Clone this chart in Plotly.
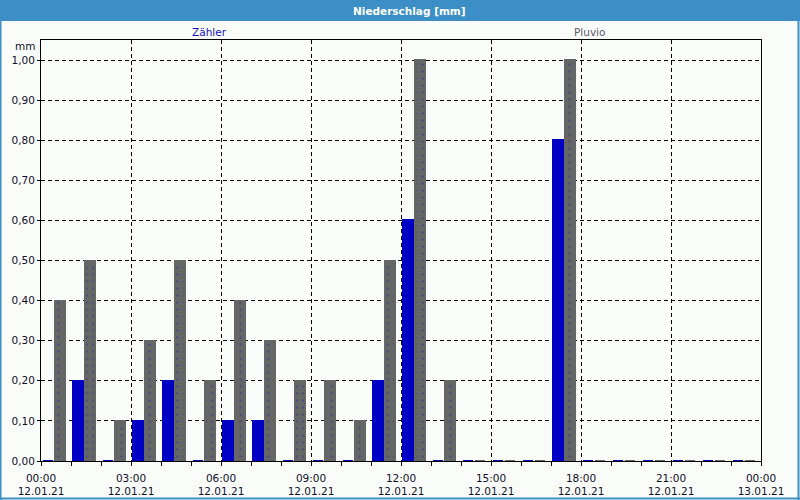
import plotly.graph_objects as go

# ---- data ----
hours = list(range(24))
zaehler = [0.0, 0.2, 0.0, 0.1, 0.2, 0.0, 0.1, 0.1, 0.0, 0.0, 0.0, 0.2,
           0.6, 0.0, 0.0, 0.0, 0.0, 0.8, 0.0, 0.0, 0.0, 0.0, 0.0, 0.0]
pluvio = [0.4, 0.5, 0.1, 0.3, 0.5, 0.2, 0.4, 0.3, 0.2, 0.2, 0.1, 0.5,
          1.0, 0.2, 0.0, 0.0, 0.0, 1.0, 0.0, 0.0, 0.0, 0.0, 0.0, 0.0]
tick_hours = [0, 3, 6, 9, 12, 15, 18, 21, 24]
tick_labels = ["00:00<br>12.01.21", "03:00<br>12.01.21", "06:00<br>12.01.21",
               "09:00<br>12.01.21", "12:00<br>12.01.21", "15:00<br>12.01.21",
               "18:00<br>12.01.21", "21:00<br>12.01.21", "00:00<br>13.01.21"]
y_ticks = [0.0, 0.1, 0.2, 0.3, 0.4, 0.5, 0.6, 0.7, 0.8, 0.9, 1.0]
title_text = "Niederschlag [mm]"
series_names = ["Zähler", "Pluvio"]
unit_label = "mm"

# ---- geometry helpers ----
W, H = 800, 500
PL, PR, PT, PB = 41, 761, 40, 461


def px_x(p):
    return (p - PL) / (PR - PL)


def px_y(p):
    return (PB - p) / (PB - PT)


BLUE = "#0000c4"
GRAY = "#666666"
FONT = "DejaVu Sans"
FS = 10.5
TXT = "#10102a"
BG = "#fafcfa"
FRAME = "#3c8fc6"

fig = go.Figure()
fig.add_trace(go.Bar(
    x=hours, y=zaehler, name=series_names[0],
    offset=0.06, width=0.33,
    marker=dict(color=BLUE, line=dict(color=BLUE, width=2)),
))
fig.add_trace(go.Bar(
    x=hours, y=pluvio, name=series_names[1],
    offset=0.46, width=0.33,
    marker=dict(color=GRAY, line=dict(color=GRAY, width=2),
                pattern=dict(shape=".", bgcolor=GRAY, fgcolor="#30309a",
                             size=7, solidity=0.1)),
))

fig.update_layout(
    width=W, height=H,
    margin=dict(l=PL, r=W - PR, t=PT, b=H - PB, pad=0),
    paper_bgcolor=BG, plot_bgcolor=BG,
    showlegend=False,
    separators=",.",
    font=dict(family=FONT, size=FS, color=TXT),
    bargap=0,
    xaxis=dict(
        range=[0, 24], tickmode="array", tickvals=tick_hours, ticktext=tick_labels,
        showgrid=True, gridcolor="#000000", gridwidth=1, griddash="4px,3px",
        showline=True, linecolor="#000000", linewidth=1, mirror=True,
        ticks="outside", ticklen=4, tickcolor="#000000",
        minor=dict(dtick=1, tick0=0, ticks="outside", ticklen=4,
                   tickcolor="#000000", showgrid=False),
        zeroline=False, fixedrange=True, automargin=False,
        ticklabelstandoff=3,
        tickfont=dict(family=FONT, size=FS, color=TXT),
    ),
    yaxis=dict(
        range=[0, 1.05], tickmode="array", tickvals=y_ticks, tickformat=".2f",
        showgrid=True, gridcolor="#000000", gridwidth=1, griddash="4px,3px",
        showline=True, linecolor="#000000", linewidth=1, mirror=True,
        ticks="outside", ticklen=3, tickcolor="#000000",
        zeroline=False, fixedrange=True, automargin=False,
        tickfont=dict(family=FONT, size=FS, color=TXT),
    ),
)

# title bar
fig.add_shape(type="rect", xref="paper", yref="paper",
              x0=px_x(-2), x1=px_x(W + 2), y0=px_y(21), y1=px_y(-2),
              fillcolor=FRAME, line=dict(width=0), layer="above")
# window frame (left, right, bottom)
for (xa, ya, xb, yb) in [(0.5, 0, 0.5, H), (W - 1.5, 0, W - 1.5, H),
                         (0, H - 1.5, W, H - 1.5)]:
    fig.add_shape(type="line", xref="paper", yref="paper",
                  x0=px_x(xa), x1=px_x(xb), y0=px_y(ya), y1=px_y(yb),
                  line=dict(color=FRAME, width=2), layer="above")

fig.add_annotation(text="<b>" + title_text + "</b>", xref="paper", yref="paper",
                   x=px_x(409), y=px_y(10.5), showarrow=False,
                   xanchor="center", yanchor="middle",
                   font=dict(family=FONT, size=FS, color="#ffffff"))
fig.add_annotation(text=series_names[0], xref="paper", yref="paper",
                   x=px_x(209), y=px_y(32), showarrow=False,
                   xanchor="center", yanchor="middle",
                   font=dict(family=FONT, size=FS, color="#1515c8"))
fig.add_annotation(text=series_names[1], xref="paper", yref="paper",
                   x=px_x(589), y=px_y(32), showarrow=False,
                   xanchor="center", yanchor="middle",
                   font=dict(family=FONT, size=FS, color="#5a5a6a"))
fig.add_annotation(text=unit_label, xref="paper", yref="paper",
                   x=px_x(37), y=px_y(46), showarrow=False,
                   xanchor="right", yanchor="middle",
                   font=dict(family=FONT, size=FS, color=TXT))

fig.write_html("out.html")
